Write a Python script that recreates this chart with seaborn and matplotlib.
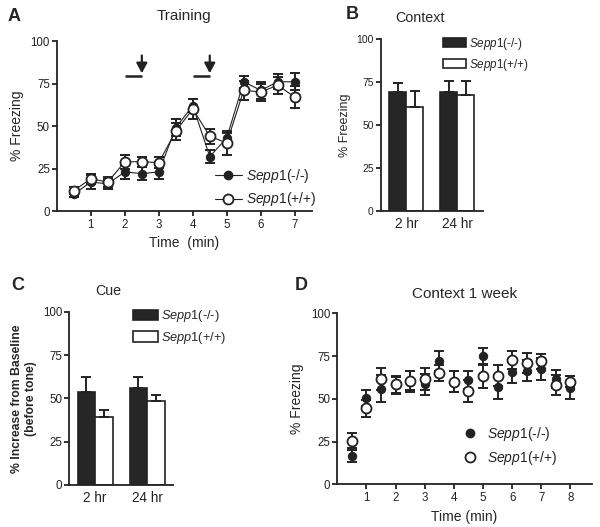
import numpy as np
import pandas as pd
import seaborn as sns
import matplotlib.pyplot as plt
from matplotlib.lines import Line2D
from matplotlib.patches import Patch

sns.set_theme(style="ticks")
plt.rcParams['font.family'] = ['Liberation Sans', 'DejaVu Sans']
plt.rcParams['mathtext.fontset'] = 'custom'
plt.rcParams['mathtext.it'] = 'Liberation Sans:italic'
plt.rcParams['mathtext.rm'] = 'Liberation Sans'
plt.rcParams['axes.linewidth'] = 1.3
plt.rcParams['axes.edgecolor'] = '#222222'
plt.rcParams['xtick.major.width'] = 1.3
plt.rcParams['ytick.major.width'] = 1.3
plt.rcParams['xtick.major.size'] = 3.5
plt.rcParams['ytick.major.size'] = 3.5
plt.rcParams['xtick.major.pad'] = 2
plt.rcParams['ytick.major.pad'] = 1.5
plt.rcParams['xtick.color'] = '#222222'
plt.rcParams['ytick.color'] = '#222222'

# ---- data ----
KO = r'$\it{Sepp1}$(-/-)'
WT = r'$\it{Sepp1}$(+/+)'

# A: training
times_a = [0.5, 1, 1.5, 2, 2.5, 3, 3.5, 4, 4.5, 5, 5.5, 6, 6.5, 7]
ko_a = [10, 17, 16, 23, 22, 23, 49, 62, 32, 43, 76, 71, 76, 76]
ko_a_err = [2, 4, 3, 4, 4, 4, 5, 4, 4, 3, 3.5, 5, 4.5, 5]
wt_a = [12, 19, 17, 29, 29, 28.5, 47, 60, 44, 40, 71, 70, 74, 67]
wt_a_err = [2, 3, 3, 4, 3, 3, 5, 6, 4.5, 7, 5.5, 5, 5, 6.5]
tone_start = [2, 4]
shock_time = [2.5, 4.5]

# B: context
groups = ['2 hr', '24 hr']
ctx_ko = [69, 69]
ctx_ko_err = [5.7, 6.3]
ctx_wt = [60.7, 67.5]
ctx_wt_err = [9.1, 7.8]

# C: cue
cue_ko = [53.8, 55.8]
cue_ko_err = [8.7, 6.3]
cue_wt = [39.4, 48.5]
cue_wt_err = [3.9, 3.4]

# D: context 1 week
times_d = [0.5, 1, 1.5, 2, 2.5, 3, 3.5, 4, 4.5, 5, 5.5, 6, 6.5, 7, 7.5, 8]
ko_d = [16.5, 50.5, 56, 58, 60, 58.5, 72, 60, 61, 75, 57, 65.5, 66.5, 67.5, 61.5, 56.5]
ko_d_err = [3.5, 4.5, 8, 5, 6, 6, 6, 6, 5.4, 5, 7, 6, 6.3, 6.4, 5.4, 6.8]
wt_d = [25.5, 44.5, 61.5, 58.5, 60.5, 61.5, 65, 60, 54.5, 63.5, 63.5, 72.5, 71, 72, 58, 60]
wt_d_err = [4.5, 5, 6.5, 5, 5.5, 6.5, 4.5, 6, 6.4, 7, 6, 5.3, 6, 4.3, 5.7, 3.2]

INK = '#222222'
fig = plt.figure(figsize=(6, 5.27), dpi=100)


def style_axis(ax):
    sns.despine(ax=ax)
    ax.set_ylim(0, 100)
    ax.set_yticks([0, 25, 50, 75, 100])
    ax.grid(False)


def time_panel(ax, times, ko, ko_err, wt, wt_err, lines):
    ax.errorbar(times, ko, yerr=ko_err, fmt='none', ecolor=INK, elinewidth=1.4,
                capsize=3.3, capthick=1.4, zorder=2)
    ax.errorbar(times, wt, yerr=wt_err, fmt='none', ecolor=INK, elinewidth=1.4,
                capsize=3.3, capthick=1.4, zorder=2)
    ls = '-' if lines else 'none'
    sns.lineplot(x=times, y=ko, ax=ax, color=INK, lw=0.8, linestyle=ls, marker='o',
                 markersize=6, markerfacecolor=INK, markeredgecolor=INK, zorder=3)
    sns.lineplot(x=times, y=wt, ax=ax, color=INK, lw=0.8, linestyle=ls, marker='o',
                 markersize=7.2, markerfacecolor='white', markeredgecolor=INK,
                 markeredgewidth=1.3, zorder=4)


# ---- A ----
axA = fig.add_axes([0.0948, 0.5996, 0.4247, 0.3226])
time_panel(axA, times_a, ko_a, ko_a_err, wt_a, wt_a_err, lines=True)
style_axis(axA)
axA.set_xlim(0, 7.5)
axA.set_xticks(range(1, 8))
axA.tick_params(labelsize=8.3)
axA.set_xlabel('Time  (min)', fontsize=10, labelpad=4)
axA.set_ylabel('% Freezing', fontsize=10, labelpad=5)
axA.set_title('Training', fontsize=11, pad=15)
for t0, t1 in zip(tone_start, shock_time):
    axA.plot([t0, t1], [79.5, 79.5], color=INK, lw=1.8, solid_capstyle='butt')
    axA.annotate('', xy=(t1, 81), xytext=(t1, 91.5),
                 arrowprops=dict(arrowstyle='-|>,head_length=0.6,head_width=0.32',
                                 color=INK, lw=1.6, mutation_scale=10,
                                 shrinkA=0, shrinkB=0))
hA = [Line2D([], [], color=INK, lw=0.8, marker='o', markersize=6,
             markerfacecolor=INK, markeredgecolor=INK),
      Line2D([], [], color=INK, lw=0.8, marker='o', markersize=7.2,
             markerfacecolor='white', markeredgecolor=INK, markeredgewidth=1.3)]
axA.legend(hA, [KO, WT], loc='upper left', bbox_to_anchor=(0.62, 0.26),
           frameon=False, fontsize=10, handlelength=1.95, handletextpad=0.3,
           labelspacing=0.4, borderpad=0, borderaxespad=0)
fig.text(0.012, 0.968, 'A', fontsize=13, fontweight='bold', va='center')


# ---- bar panels ----
def bar_panel(ax, ko, ko_err, wt, wt_err, fs_leg, anchor):
    df = pd.DataFrame({'group': groups * 2,
                       'value': ko + wt,
                       'genotype': [KO] * 2 + [WT] * 2})
    sns.barplot(data=df, x='group', y='value', hue='genotype', ax=ax,
                palette=['#262626', 'white'], edgecolor=INK, linewidth=1.2,
                width=0.67, errorbar=None, legend=False, saturation=1)
    for cont, errs in zip(ax.containers, [ko_err, wt_err]):
        xs = [b.get_x() + b.get_width() / 2 for b in cont]
        hs = [b.get_height() for b in cont]
        ax.errorbar(xs, hs, yerr=[np.zeros(len(errs)), errs], fmt='none',
                    ecolor=INK, elinewidth=1.4, capsize=3.3, capthick=1.4, zorder=1)
    style_axis(ax)
    ax.set_xlim(-0.5, 1.5)
    ax.set_xlabel('')
    ax.tick_params(axis='x', length=0, labelsize=9.8, pad=4)
    handles = [Patch(facecolor='#262626', edgecolor=INK, lw=1.2),
               Patch(facecolor='white', edgecolor=INK, lw=1.2)]
    ax.legend(handles, [KO, WT], loc='upper left', bbox_to_anchor=anchor,
              frameon=False, fontsize=fs_leg, handlelength=2.0, handleheight=0.85,
              handletextpad=0.25, labelspacing=0.45, borderpad=0, borderaxespad=0)


axB = fig.add_axes([0.6345, 0.5996, 0.17, 0.3264])
bar_panel(axB, ctx_ko, ctx_ko_err, ctx_wt, ctx_wt_err, 8.4, (0.61, 1.02))
axB.tick_params(axis='y', labelsize=7.5)
axB.set_ylabel('% Freezing', fontsize=9, labelpad=4)
axB.set_title('Context', fontsize=10.3, pad=12, x=0.38)
fig.text(0.577, 0.972, 'B', fontsize=13, fontweight='bold', va='center')

axC = fig.add_axes([0.115, 0.0797, 0.1738, 0.3288])
bar_panel(axC, cue_ko, cue_ko_err, cue_wt, cue_wt_err, 9.2, (0.61, 1.02))
axC.tick_params(axis='y', labelsize=8.3)
axC.set_ylabel('% Increase from Baseline\n(before tone)', fontsize=8.8,
               fontweight='bold', labelpad=4)
axC.set_title('Cue', fontsize=10.3, pad=12, x=0.38)
fig.text(0.018, 0.458, 'C', fontsize=13, fontweight='bold', va='center')

# ---- D ----
axD = fig.add_axes([0.5622, 0.081, 0.424, 0.3245])
time_panel(axD, times_d, ko_d, ko_d_err, wt_d, wt_d_err, lines=False)
style_axis(axD)
axD.set_xlim(0, 8.73)
axD.set_xticks(range(1, 9))
axD.tick_params(labelsize=8.3)
axD.set_xlabel('Time (min)', fontsize=10, labelpad=4)
axD.set_ylabel('% Freezing', fontsize=10, labelpad=5)
axD.set_title('Context 1 week', fontsize=11, pad=11)
hD = [Line2D([], [], ls='none', marker='o', markersize=6,
             markerfacecolor=INK, markeredgecolor=INK),
      Line2D([], [], ls='none', marker='o', markersize=7.2,
             markerfacecolor='white', markeredgecolor=INK, markeredgewidth=1.3)]
axD.legend(hD, [KO, WT], loc='upper left', bbox_to_anchor=(0.49, 0.345),
           frameon=False, fontsize=10, handlelength=1.2, handletextpad=0.6,
           labelspacing=0.4, borderpad=0, borderaxespad=0)
fig.text(0.492, 0.458, 'D', fontsize=13, fontweight='bold', va='center')

fig.savefig('out.png', dpi=100)
